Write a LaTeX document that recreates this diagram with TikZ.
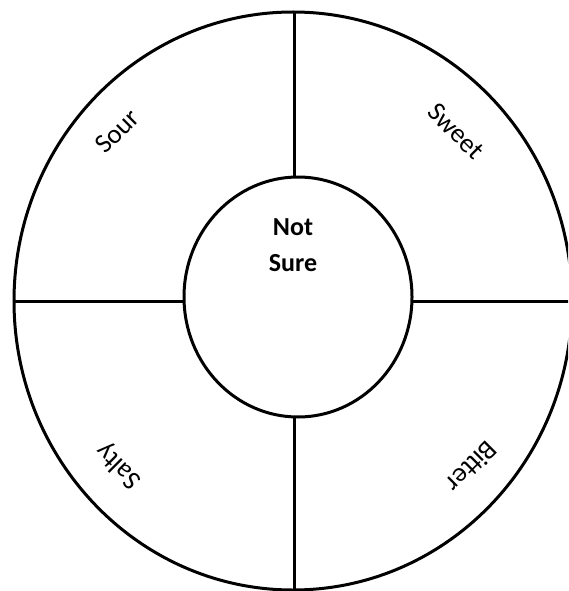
\documentclass[tikz,border=0pt]{standalone}
\usepackage{fontspec}
\setmainfont{Carlito}
\begin{document}
\begin{tikzpicture}[x=1pt,y=-1pt,
  ring/.style={draw=black,line width=3pt},
  divider/.style={draw=black,line width=3pt},
  taste/.style={font=\fontsize{27}{32}\selectfont,inner sep=0pt},
  centretext/.style={font=\bfseries\fontsize{26}{36}\selectfont,inner sep=0pt,anchor=base}]
\useasboundingbox (0,0) rectangle (568,591);
\begin{scope}
\clip (0,0) rectangle (568,591);
\path[ring] (293,301) ellipse [x radius=279, y radius=289];
\path[ring] (298,297) ellipse [x radius=114, y radius=120];
\coordinate (otop) at (294,12);
\coordinate (itop) at (294,177);
\coordinate (ibot) at (294,417);
\coordinate (obot) at (294,595);
\coordinate (oleft) at (14,301);
\coordinate (ileft) at (184,301);
\coordinate (iright) at (412,301);
\coordinate (oright) at (572,301);
\draw[divider] (otop) -- (itop);
\draw[divider] (ibot) -- (obot);
\draw[divider] (oleft) -- (ileft);
\draw[divider] (iright) -- (oright);
\end{scope}
\node[centretext] (notl) at (293,235) {Not};
\node[centretext] (surel) at (293,271) {Sure};
\node[taste,rotate=45] (sour) at (117,131) {Sour};
\node[taste,rotate=-45] (sweet) at (456,131) {Sweet};
\node[taste,rotate=135] (salty) at (119,466) {Salty};
\node[taste,rotate=225] (bitter) at (472,467) {Bitter};
\end{tikzpicture}
\end{document}
